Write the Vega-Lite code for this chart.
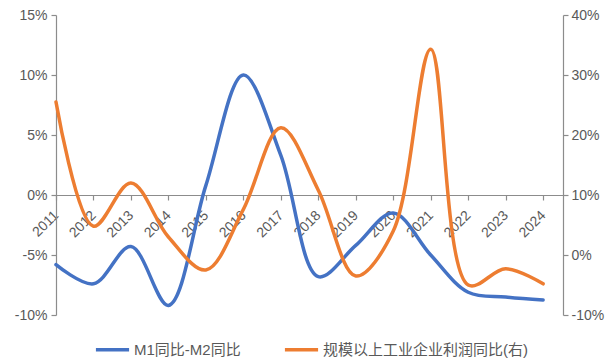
{
  "$schema": "https://vega.github.io/schema/vega-lite/v6.json",
  "width": 507,
  "height": 300,
  "autosize": "none",
  "padding": {"left": 56, "top": 15, "right": 47, "bottom": 48},
  "background": "white",
  "config": {
    "view": {"stroke": null},
    "font": "Liberation Sans, Noto Sans CJK SC",
    "axis": {
      "grid": false,
      "domainColor": "#8c8c8c",
      "tickColor": "#8c8c8c",
      "labelColor": "#595959",
      "labelFontSize": 14,
      "titleFontSize": 14,
      "tickSize": 5,
      "domainWidth": 1.2,
      "tickWidth": 1.2
    },
    "legend": {
      "labelColor": "#595959",
      "labelFontSize": 15,
      "labelLimit": 400,
      "symbolType": "stroke",
      "symbolStrokeWidth": 3.5,
      "symbolSize": 1100,
      "columnPadding": 36,
      "labelOffset": 3
    }
  },
  "data": {
    "values": [
      {"year": 2011, "m1m2": -5.8, "profit": 25.5},
      {"year": 2012, "m1m2": -7.4, "profit": 4.8},
      {"year": 2013, "m1m2": -4.3, "profit": 12.0},
      {"year": 2014, "m1m2": -9.2, "profit": 3.0},
      {"year": 2015, "m1m2": 0.8, "profit": -2.5},
      {"year": 2016, "m1m2": 10.0, "profit": 7.6},
      {"year": 2017, "m1m2": 3.3, "profit": 21.2},
      {"year": 2018, "m1m2": -6.8, "profit": 10.8},
      {"year": 2019, "m1m2": -4.2, "profit": -3.5},
      {"year": 2020, "m1m2": -1.5, "profit": 4.0},
      {"year": 2021, "m1m2": -5.0, "profit": 34.3},
      {"year": 2022, "m1m2": -8.1, "profit": -5.0},
      {"year": 2023, "m1m2": -8.5, "profit": -2.3},
      {"year": 2024, "m1m2": -8.75, "profit": -4.8}
    ]
  },
  "encoding": {
    "x": {
      "field": "year",
      "type": "quantitative",
      "scale": {"domain": [2011, 2024.53], "nice": false, "zero": false},
      "axis": {
        "title": null,
        "values": [2011, 2012, 2013, 2014, 2015, 2016, 2017, 2018, 2019, 2020, 2021, 2022, 2023, 2024],
        "format": "d",
        "labelAngle": -45,
        "labelAlign": "right",
        "labelBaseline": "middle",
        "labelFontSize": 14,
        "labelPadding": 13,
        "offset": -120
      }
    },
    "color": {
      "scale": {
        "domain": ["M1同比-M2同比", "规模以上工业企业利润同比(右)"],
        "range": ["#4472C4", "#ED7D31"]
      },
      "legend": {
        "title": null,
        "orient": "none",
        "direction": "horizontal",
        "legendX": 38,
        "legendY": 316
      }
    }
  },
  "layer": [
    {
      "mark": {"type": "line", "interpolate": "catmull-rom", "strokeWidth": 3.5, "strokeCap": "round"},
      "encoding": {
        "y": {
          "field": "m1m2",
          "type": "quantitative",
          "scale": {"domain": [-10, 15], "nice": false},
          "axis": {
            "title": null,
            "orient": "left",
            "values": [-10, -5, 0, 5, 10, 15],
            "labelExpr": "datum.value + '%'",
            "labelPadding": 4
          }
        },
        "color": {"datum": "M1同比-M2同比"}
      }
    },
    {
      "mark": {"type": "line", "interpolate": "catmull-rom", "strokeWidth": 3.5, "strokeCap": "round"},
      "encoding": {
        "y": {
          "field": "profit",
          "type": "quantitative",
          "scale": {"domain": [-10, 40], "nice": false},
          "axis": {
            "title": null,
            "orient": "right",
            "values": [-10, 0, 10, 20, 30, 40],
            "labelExpr": "datum.value + '%'",
            "labelPadding": 3
          }
        },
        "color": {"datum": "规模以上工业企业利润同比(右)"}
      }
    }
  ],
  "resolve": {"scale": {"y": "independent"}}
}
